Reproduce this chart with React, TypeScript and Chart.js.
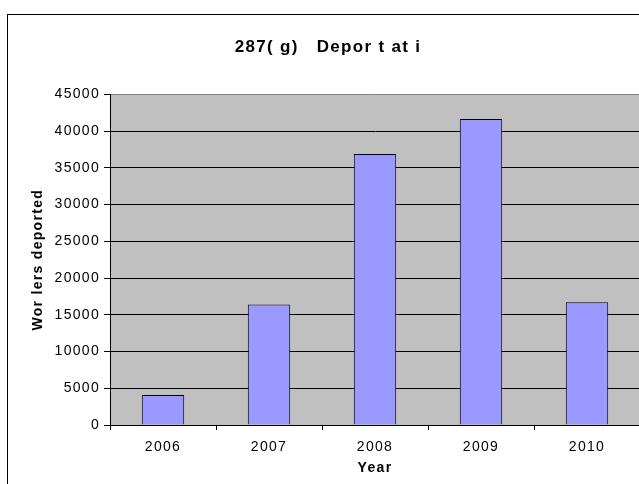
import React, { useEffect, useRef } from 'react';
import { Chart, registerables } from 'chart.js';

Chart.register(...registerables);

const years: string[] = ['2006', '2007', '2008', '2009', '2010'];
const workersDeported: number[] = [4100, 16400, 36900, 41650, 16700];
const yTickValues: number[] = [0, 5000, 10000, 15000, 20000, 25000, 30000, 35000, 40000, 45000];
const chartTitle = '287( g)   Depor t at i';
const yAxisTitle = 'Wor lers deported';
const xAxisTitle = 'Year';

const FONT = "'Liberation Sans', Arial, sans-serif";
const SPACING = '1.3px';

const decorPlugin = {
  id: 'decor',
  beforeUpdate(chart: any) {
    chart.ctx.letterSpacing = SPACING;
  },
  beforeDraw(chart: any) {
    const { ctx, chartArea } = chart;
    const { left, top, right, bottom } = chartArea;
    ctx.save();
    ctx.fillStyle = '#ffffff';
    ctx.fillRect(0, 0, chart.width, chart.height);
    ctx.fillStyle = '#C0C0C0';
    ctx.fillRect(left, top, right - left, bottom - top);
    ctx.strokeStyle = '#000000';
    ctx.lineWidth = 1;
    ctx.strokeRect(7.5, 14.5, 2000, 2000);
    ctx.restore();
    ctx.letterSpacing = SPACING;
  },
};

export default function App() {
  const canvasRef = useRef<HTMLCanvasElement | null>(null);

  useEffect(() => {
    const canvas = canvasRef.current;
    if (!canvas) return;
    const chart = new Chart(canvas, {
      type: 'bar',
      data: {
        labels: years,
        datasets: [
          {
            data: workersDeported,
            backgroundColor: '#9999FF',
            borderColor: '#000000',
            borderWidth: 1,
            categoryPercentage: 1,
            barPercentage: 0.4,
          },
        ],
      },
      plugins: [decorPlugin],
      options: {
        animation: false,
        responsive: false,
        devicePixelRatio: 1,
        layout: { padding: { left: 16, top: 0, right: 60, bottom: 0 } },
        plugins: {
          legend: { display: false },
          tooltip: { enabled: false },
          title: {
            display: true,
            text: chartTitle,
            color: '#000000',
            font: { family: FONT, size: 17, weight: 'bold' },
            padding: { top: 37, bottom: 37 },
          },
        },
        scales: {
          x: {
            offset: true,
            afterFit(scale: any) {
              scale.height = 59;
            },
            grid: {
              display: true,
              drawOnChartArea: false,
              drawTicks: true,
              tickLength: 5,
              color: '#000000',
              tickColor: '#000000',
              offset: true,
            },
            border: { display: true, color: '#000000', width: 1 },
            ticks: {
              color: '#000000',
              font: { family: FONT, size: 14 },
              padding: 9,
              maxRotation: 0,
            },
            title: {
              display: true,
              text: xAxisTitle,
              color: '#000000',
              font: { family: FONT, size: 14, weight: 'bold' },
              padding: { top: 0, bottom: 7 },
            },
          },
          y: {
            min: 0,
            max: 45000,
            afterFit(scale: any) {
              scale.width = 94;
            },
            afterBuildTicks(scale: any) {
              scale.ticks = yTickValues.map((v) => ({ value: v }));
            },
            grid: {
              display: true,
              drawTicks: true,
              tickLength: 6,
              color: (ctx: any) => (ctx.tick && ctx.tick.value === 45000 ? '#808080' : '#000000'),
              tickColor: '#000000',
            },
            border: { display: true, color: '#000000', width: 1 },
            ticks: {
              color: '#000000',
              font: { family: FONT, size: 14 },
              padding: 4,
              callback: (v: any) => String(v),
            },
            title: {
              display: true,
              text: yAxisTitle,
              color: '#000000',
              font: { family: FONT, size: 14, weight: 'bold' },
              padding: { top: 14, bottom: 0 },
            },
          },
        },
      },
    } as any);
    return () => {
      chart.destroy();
    };
  }, []);

  return (
    <div
      style={{
        position: 'fixed',
        left: 0,
        top: 0,
        width: 639,
        height: 484,
        overflow: 'hidden',
        background: '#ffffff',
      }}
    >
      <canvas ref={canvasRef} width={700} height={484} style={{ width: 700, height: 484, display: 'block' }} />
    </div>
  );
}
